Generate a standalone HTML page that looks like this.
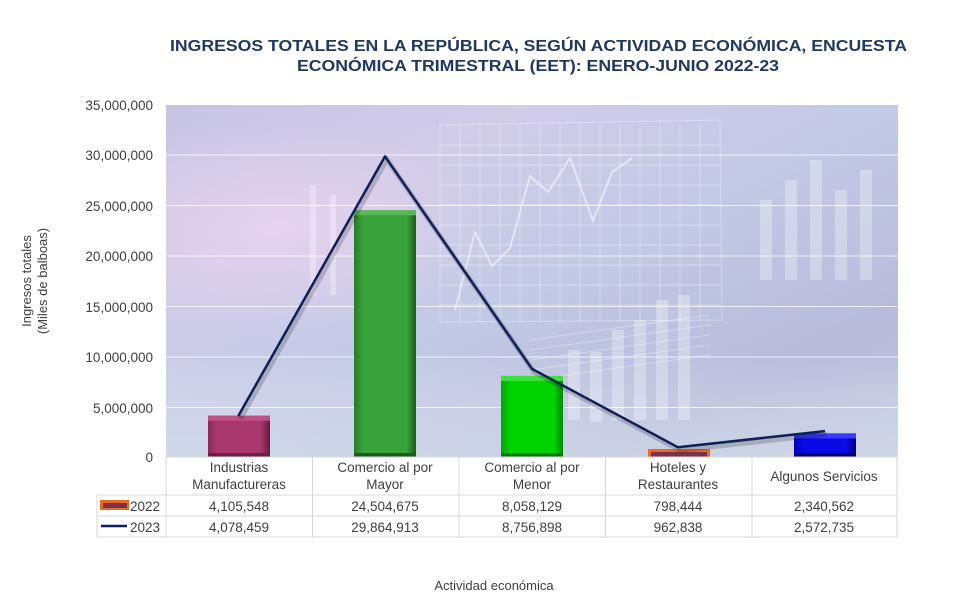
<!DOCTYPE html>
<html><head><meta charset="utf-8"><style>
body{margin:0;background:#fff;width:970px;height:615px;overflow:hidden;font-family:"Liberation Sans",sans-serif;}
</style></head><body>
<svg width="970" height="615" xmlns="http://www.w3.org/2000/svg" style="position:absolute;left:0;top:0">
<defs>
<linearGradient id="bg" x1="0" y1="0" x2="1" y2="1">
<stop offset="0" stop-color="#c2bee2"/><stop offset="0.25" stop-color="#ccc6e6"/><stop offset="0.5" stop-color="#bcc4e2"/><stop offset="0.8" stop-color="#afb4d6"/><stop offset="1" stop-color="#b8c0dc"/>
</linearGradient>
<linearGradient id="bg2" x1="0" y1="0" x2="0" y2="1">
<stop offset="0" stop-color="#fff" stop-opacity="0.1"/><stop offset="0.7" stop-color="#fff" stop-opacity="0.1"/><stop offset="1" stop-color="#dfe8f0" stop-opacity="0.55"/>
</linearGradient>
<radialGradient id="pink" cx="0.15" cy="0.35" r="0.3"><stop offset="0" stop-color="#e8d0ee" stop-opacity="0.8"/><stop offset="1" stop-color="#e8d0ee" stop-opacity="0"/></radialGradient>
<linearGradient id="b1" x1="0" x2="1"><stop offset="0" stop-color="#8a2a5a"/><stop offset="0.15" stop-color="#a8386e"/><stop offset="0.85" stop-color="#a8386e"/><stop offset="1" stop-color="#5e1c3c"/></linearGradient>
<linearGradient id="b2" x1="0" x2="1"><stop offset="0" stop-color="#2a7a2a"/><stop offset="0.15" stop-color="#3aa23a"/><stop offset="0.85" stop-color="#3aa23a"/><stop offset="1" stop-color="#1e5a1e"/></linearGradient>
<linearGradient id="b3" x1="0" x2="1"><stop offset="0" stop-color="#00a800"/><stop offset="0.15" stop-color="#00d400"/><stop offset="0.85" stop-color="#00d400"/><stop offset="1" stop-color="#008800"/></linearGradient>
<linearGradient id="b5" x1="0" x2="1"><stop offset="0" stop-color="#0000b0"/><stop offset="0.15" stop-color="#0a0ae8"/><stop offset="0.85" stop-color="#0a0ae8"/><stop offset="1" stop-color="#00007a"/></linearGradient>
</defs>
<text x="170" y="51" textLength="737" lengthAdjust="spacingAndGlyphs" font-size="16" font-weight="bold" fill="#1f3864">INGRESOS TOTALES EN LA REPÚBLICA, SEGÚN ACTIVIDAD ECONÓMICA, ENCUESTA</text>
<text x="297" y="71" textLength="482" lengthAdjust="spacingAndGlyphs" font-size="16" font-weight="bold" fill="#1f3864">ECONÓMICA TRIMESTRAL (EET): ENERO-JUNIO 2022-23</text>
<rect x="166" y="105" width="732" height="352" fill="url(#bg)"/>
<rect x="166" y="105" width="732" height="352" fill="url(#pink)"/>
<rect x="166" y="105" width="732" height="352" fill="url(#bg2)"/>
<g stroke="#fff" stroke-opacity="0.35" fill="none" stroke-width="1">
<path d="M440 125 L720 120 L722 320 L440 322 Z"/>
<path d="M460 125V322M480 125V322M500 125V322M520 125V322M540 125V322M560 125V322M580 125V322M600 125V322M620 125V322M640 125V322M660 125V322M680 125V322M700 125V322"/>
<path d="M440 145H720M440 165H720M440 185H720M440 205H720M440 225H720M440 245H720M440 265H720M440 285H720M440 305H720"/>
<path d="M455 310 L475 232 L492 266 L510 248 L530 176 L548 192 L570 158 L593 221 L612 172 L632 158" stroke-width="2" stroke-opacity="0.5"/>
<path d="M530 380 L710 355M530 370 L710 345M530 360 L710 335M530 350 L710 325M530 340 L710 315"/>
</g>
<g fill="#fff" fill-opacity="0.3">
<rect x="568" y="350" width="12" height="70"/><rect x="590" y="352" width="12" height="70"/><rect x="612" y="330" width="12" height="90"/><rect x="634" y="320" width="12" height="100"/><rect x="656" y="300" width="12" height="120"/><rect x="678" y="295" width="12" height="125"/>
<rect x="760" y="200" width="12" height="80"/><rect x="785" y="180" width="12" height="100"/><rect x="810" y="160" width="12" height="120"/><rect x="835" y="190" width="12" height="90"/><rect x="860" y="170" width="12" height="110"/>
<rect x="310" y="185" width="6" height="110"/><rect x="330" y="195" width="6" height="100"/>
</g>
<g stroke="#fff" stroke-opacity="0.75" stroke-width="1">
<line x1="166" y1="155" x2="898" y2="155"/><line x1="166" y1="205.5" x2="898" y2="205.5"/><line x1="166" y1="256" x2="898" y2="256"/><line x1="166" y1="306.5" x2="898" y2="306.5"/><line x1="166" y1="357" x2="898" y2="357"/><line x1="166" y1="407.5" x2="898" y2="407.5"/>
</g>
<g font-size="13.5" fill="#404040" text-anchor="end">
<text x="153" y="110">35,000,000</text><text x="153" y="160">30,000,000</text><text x="153" y="211">25,000,000</text><text x="153" y="261">20,000,000</text><text x="153" y="312">15,000,000</text><text x="153" y="362">10,000,000</text><text x="153" y="413">5,000,000</text><text x="153" y="462">0</text>
</g>
<text transform="translate(31,281) rotate(-90)" text-anchor="middle" font-size="13" fill="#404040">Ingresos totales</text>
<text transform="translate(47,281) rotate(-90)" text-anchor="middle" font-size="13" fill="#404040">(Miles de balboas)</text>
<rect x="208" y="415.7" width="62" height="41.3" fill="url(#b1)"/><rect x="208" y="415.7" width="62" height="5" fill="#c05088"/><rect x="208" y="453" width="62" height="4" fill="#6a1f44"/>
<rect x="354" y="210.3" width="62" height="246.7" fill="url(#b2)"/><rect x="354" y="210.3" width="62" height="5" fill="#58b858"/><rect x="354" y="453" width="62" height="4" fill="#1e5a1e"/>
<rect x="501" y="375.9" width="62" height="81.1" fill="url(#b3)"/><rect x="501" y="375.9" width="62" height="5" fill="#40e040"/><rect x="501" y="453" width="62" height="4" fill="#007a00"/>
<rect x="648" y="449" width="62" height="8" fill="#e86a1a"/><rect x="651" y="452" width="56" height="5" fill="#7a3050"/>
<rect x="794" y="433.4" width="62" height="23.6" fill="url(#b5)"/><rect x="794" y="433.4" width="62" height="5" fill="#3a3aff"/><rect x="794" y="453" width="62" height="4" fill="#00006a"/>
<polyline points="238.3,416 385,156.4 532,368.9 678,447.3 825,431.1" fill="none" stroke="#000" stroke-opacity="0.18" stroke-width="5" transform="translate(2,3)"/>
<polyline points="238.3,416 385,156.4 532,368.9 678,447.3 825,431.1" fill="none" stroke="#0e1f5a" stroke-width="2.5" stroke-linejoin="round"/>
<g stroke="#d8d8d8" stroke-width="1" fill="none">
<line x1="166" y1="457" x2="897" y2="457"/>
<line x1="97" y1="495" x2="897" y2="495"/><line x1="97" y1="516" x2="897" y2="516"/><line x1="97" y1="537" x2="897" y2="537"/>
<line x1="97" y1="495" x2="97" y2="537"/>
<line x1="166" y1="457" x2="166" y2="537"/><line x1="312.5" y1="457" x2="312.5" y2="537"/><line x1="459" y1="457" x2="459" y2="537"/><line x1="605.5" y1="457" x2="605.5" y2="537"/><line x1="752" y1="457" x2="752" y2="537"/><line x1="897" y1="457" x2="897" y2="537"/>
</g>
<g font-size="13.5" fill="#404040" text-anchor="middle">
<text x="239" y="472">Industrias</text><text x="239" y="489">Manufactureras</text>
<text x="385" y="472">Comercio al por</text><text x="385" y="489">Mayor</text>
<text x="532" y="472">Comercio al por</text><text x="532" y="489">Menor</text>
<text x="678" y="472">Hoteles y</text><text x="678" y="489">Restaurantes</text>
<text x="824" y="481">Algunos Servicios</text>
<text x="239" y="511">4,105,548</text><text x="385" y="511">24,504,675</text><text x="532" y="511">8,058,129</text><text x="678" y="511">798,444</text><text x="824" y="511">2,340,562</text>
<text x="239" y="532">4,078,459</text><text x="385" y="532">29,864,913</text><text x="532" y="532">8,756,898</text><text x="678" y="532">962,838</text><text x="824" y="532">2,572,735</text>
</g>
<rect x="100" y="500" width="29" height="10" fill="#e86a1a"/><rect x="103" y="503" width="24" height="5" fill="#7a3050"/>
<text x="130" y="511" font-size="13.5" fill="#404040">2022</text>
<line x1="101" y1="526" x2="127" y2="526" stroke="#0e1f5a" stroke-width="2.5"/>
<text x="130" y="532" font-size="13.5" fill="#404040">2023</text>
<text x="494" y="590" text-anchor="middle" font-size="13" fill="#404040">Actividad económica</text>
</svg>
</body></html>
